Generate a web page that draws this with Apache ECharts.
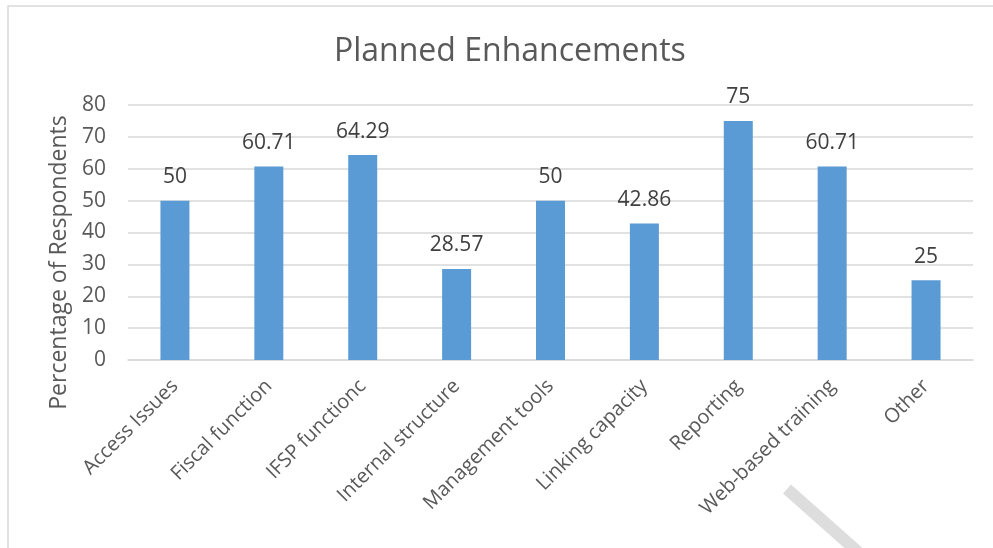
<!DOCTYPE html>
<html>
<head>
<meta charset="utf-8">
<script src="https://cdn.jsdelivr.net/npm/echarts@6/dist/echarts.min.js"></script>
<style>html,body{margin:0;padding:0;background:#fff;}#c{width:993px;height:548px;}</style>
</head>
<body>
<div id="c"></div>
<script>
const categories = ["Access Issues","Fiscal function","IFSP functionc","Internal structure","Management tools","Linking capacity","Reporting","Web-based training","Other"];
const values = [50, 60.71, 64.29, 28.57, 50, 42.86, 75, 60.71, 25];
const titleText = "Planned Enhancements";
const yAxisName = "Percentage of Respondents";

const chart = echarts.init(document.getElementById('c'));
const font = "'Open Sans', 'Liberation Sans', sans-serif";
chart.setOption({
  animation: false,
  backgroundColor: '#fff',
  title: { text: titleText, left: 329, top: 31, textStyle: { fontFamily: font, fontSize: 32, fontWeight: 'normal', color: '#595959' } },
  grid: { left: 128, right: 20, top: 105, bottom: 188, containLabel: false },
  xAxis: {
    type: 'category', data: categories,
    axisLine: { lineStyle: { color: '#D9D9D9', width: 1.5 } },
    axisTick: { show: false },
    axisLabel: { interval: 0, rotate: 45, margin: 23, fontFamily: font, fontSize: 20, color: '#595959' }
  },
  yAxis: {
    type: 'value', min: 0, max: 80, interval: 10,
    name: yAxisName, nameLocation: 'middle', nameGap: 56,
    nameTextStyle: { fontFamily: font, fontSize: 23, color: '#595959', padding: [0, 60, 0, 0] },
    axisLine: { show: false }, axisTick: { show: false },
    axisLabel: { fontFamily: font, fontSize: 21, color: '#595959', margin: 22 },
    splitLine: { lineStyle: { color: '#D9D9D9', width: 1.5 } }
  },
  series: [{
    type: 'bar', data: values, barWidth: 29,
    itemStyle: { color: '#5B9BD5' },
    label: { show: true, position: 'top', distance: 13, fontFamily: font, fontSize: 21, color: '#404040' }
  }],
  graphic: [
    { type: 'polyline', shape: { points: [[8, 548], [8, 6], [993, 6]] }, style: { stroke: '#D9D9D9', lineWidth: 1.5, fill: null } },
    { type: 'line', shape: { x1: 787, y1: 489, x2: 858, y2: 552 }, style: { stroke: '#DDDDDD', lineWidth: 12 } }
  ]
});
</script>
</body>
</html>
